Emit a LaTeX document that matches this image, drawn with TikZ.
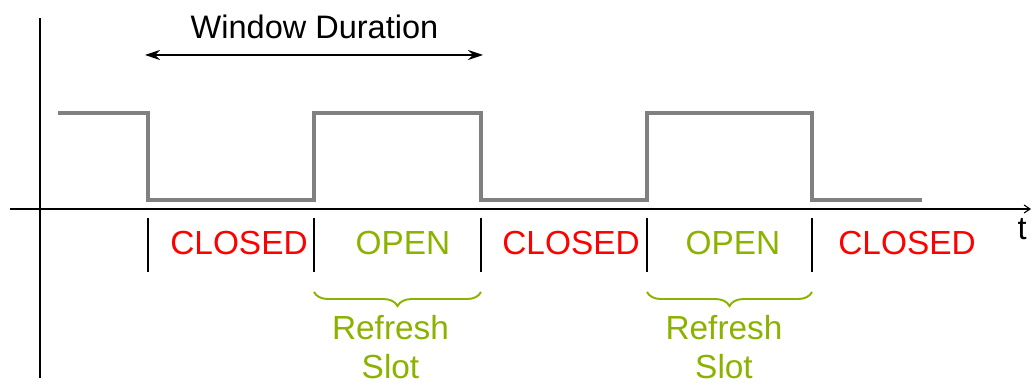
\documentclass[tikz,border=0pt]{standalone}
\usepackage{fontspec}
\setmainfont{Liberation Sans}
\usepackage{xcolor}
\usetikzlibrary{positioning, calc, decorations.pathreplacing, arrows.meta}
\definecolor{slotgreen}{RGB}{140,178,0}
\definecolor{signalgray}{RGB}{128,128,128}
\begin{document}
\begin{tikzpicture}[
		every node/.style={font=\fontsize{18.5}{21.5}\selectfont},
		closedlbl/.style={text=red, font=\fontsize{19}{22}\selectfont},
		openlbl/.style={text=slotgreen, font=\fontsize{19}{22}\selectfont},
		signal/.style={signalgray, line width=2pt},
		tickmark/.style={black, line width=0.6pt},
		brace/.style={slotgreen, line width=1.1pt, decorate, decoration={brace, mirror, amplitude=8pt}}
	]
			\useasboundingbox (0, 0) rectangle (20.68, 7.68);
			
			% axes
			\coordinate (ytop) at (0.8, 7.32);
			\coordinate (ybot) at (0.8, 0.12);
			\coordinate (xleft) at (0.2, 3.5);
			\coordinate (xright) at (20.62, 3.5);
			\draw[line width=0.6pt] (ybot) -- (ytop);
			\draw[line width=0.6pt, -{Straight Barb[length=1.2mm, width=1.6mm]}] (xleft) -- (xright);
			\node (t) at (20.44, 3.1) {t};
			
			% signal
			\coordinate (s0) at (1.16, 5.42);
			\coordinate (s1) at (2.96, 5.42);
			\coordinate (s2) at (2.96, 3.68);
			\coordinate (s3) at (6.28, 3.68);
			\coordinate (s4) at (6.28, 5.42);
			\coordinate (s5) at (9.62, 5.42);
			\coordinate (s6) at (9.62, 3.68);
			\coordinate (s7) at (12.94, 3.68);
			\coordinate (s8) at (12.94, 5.42);
			\coordinate (s9) at (16.24, 5.42);
			\coordinate (s10) at (16.24, 3.68);
			\coordinate (s11) at (18.44, 3.68);
			\draw[signal] (s0) -- (s1) -- (s2) -- (s3) -- (s4) -- (s5) -- (s6) -- (s7) -- (s8) -- (s9) -- (s10) -- (s11);
			
			% window duration
			\node (window) at (6.29, 7.14) {Window Duration};
			\coordinate (wl) at (2.9, 6.58);
			\coordinate (wr) at (9.66, 6.58);
			\draw[line width=0.6pt, {Stealth[length=3mm, width=2mm, inset=1mm]}-{Stealth[length=3mm, width=2mm, inset=1mm]}] (wl) -- (wr);
			
			% ticks
			\coordinate (t1a) at (2.96, 3.32);   \coordinate (t1b) at (2.96, 2.24);
			\coordinate (t2a) at (6.28, 3.32);   \coordinate (t2b) at (6.28, 2.24);
			\coordinate (t3a) at (9.62, 3.32);   \coordinate (t3b) at (9.62, 2.24);
			\coordinate (t4a) at (12.94, 3.32);  \coordinate (t4b) at (12.94, 2.24);
			\coordinate (t5a) at (16.24, 3.32);  \coordinate (t5b) at (16.24, 2.24);
			\draw[tickmark] (t1a) -- (t1b);
			\draw[tickmark] (t2a) -- (t2b);
			\draw[tickmark] (t3a) -- (t3b);
			\draw[tickmark] (t4a) -- (t4b);
			\draw[tickmark] (t5a) -- (t5b);
			
			% states
			\node[closedlbl] (closed1) at (4.78, 2.82) {CLOSED};
			\node[openlbl]   (open1)   at (8.06, 2.82) {OPEN};
			\node[closedlbl] (closed2) at (11.42, 2.82) {CLOSED};
			\node[openlbl]   (open2)   at (14.66, 2.82) {OPEN};
			\node[closedlbl] (closed3) at (18.14, 2.82) {CLOSED};
			
			% refresh slots
			\coordinate (b1l) at (6.28, 1.84);
			\coordinate (b1r) at (9.62, 1.84);
			\coordinate (b2l) at (12.94, 1.84);
			\coordinate (b2r) at (16.24, 1.84);
			\draw[brace] (b1l) -- (b1r);
			\draw[brace] (b2l) -- (b2r);
			\node[openlbl, align=center] (slot1) at (7.81, 0.74) {Refresh\\Slot};
			\node[openlbl, align=center] (slot2) at (14.48, 0.74) {Refresh\\Slot};
		\end{tikzpicture}
\end{document}
